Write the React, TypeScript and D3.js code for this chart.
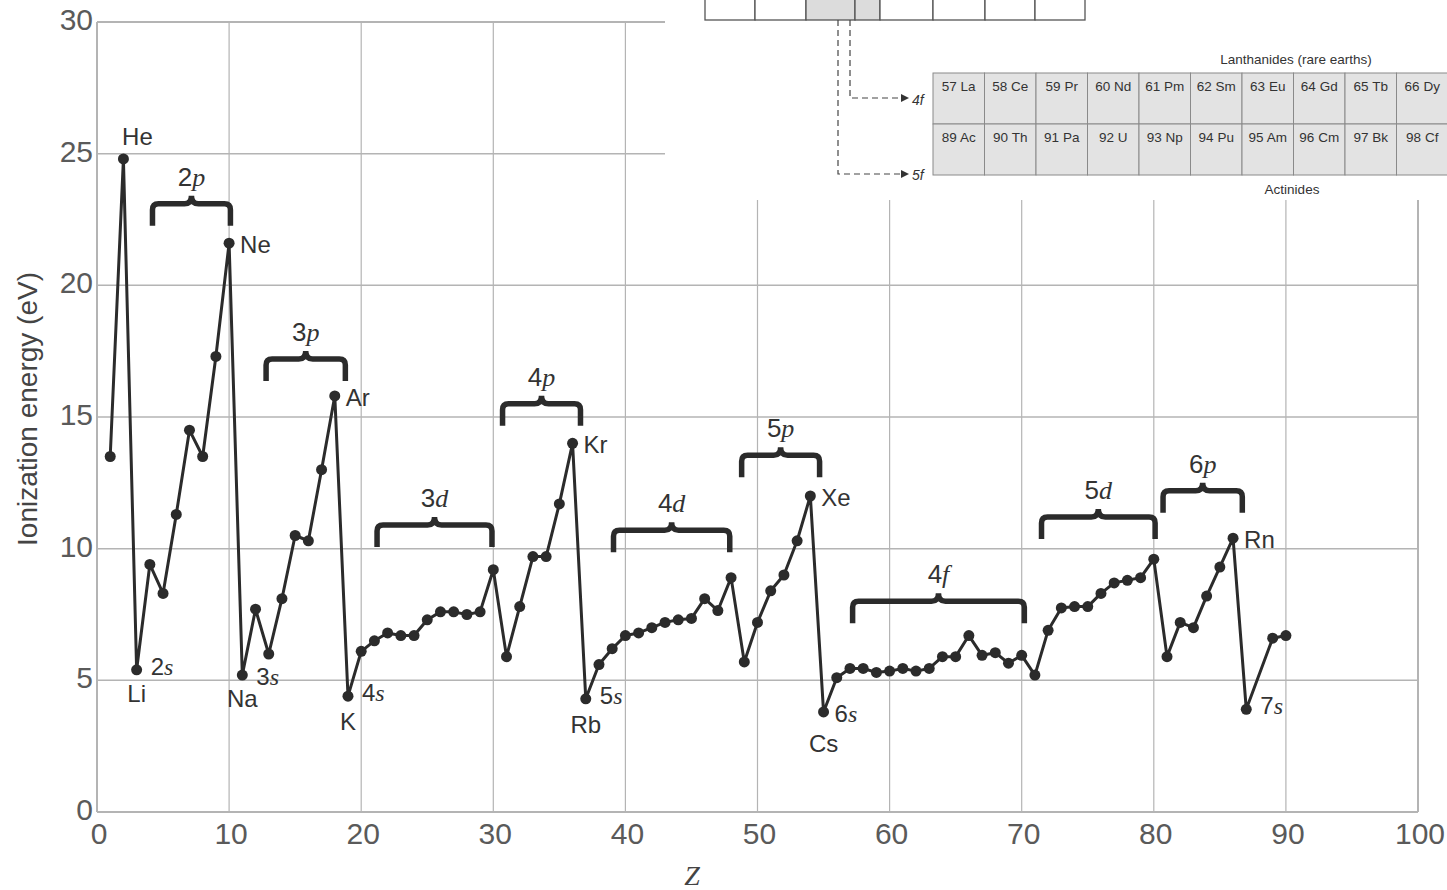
import React, { useEffect, useRef } from 'react'
import * as d3 from 'd3'

// atomic number and first ionization energy (eV)
const atomicNumbers = [
  1, 2, 3, 4, 5, 6, 7, 8, 9, 10, 11, 12, 13, 14, 15, 16, 17, 18, 19, 20,
  21, 22, 23, 24, 25, 26, 27, 28, 29, 30, 31, 32, 33, 34, 35, 36, 37, 38, 39, 40,
  41, 42, 43, 44, 45, 46, 47, 48, 49, 50, 51, 52, 53, 54, 55, 56, 57, 58, 59, 60,
  61, 62, 63, 64, 65, 66, 67, 68, 69, 70, 71, 72, 73, 74, 75, 76, 77, 78, 79, 80,
  81, 82, 83, 84, 85, 86, 87, 89, 90
]
const ionizationEnergy = [
  13.5, 24.8, 5.4, 9.4, 8.3, 11.3, 14.5, 13.5, 17.3, 21.6, 5.2, 7.7, 6.0, 8.1, 10.5, 10.3, 13.0, 15.8, 4.4, 6.1,
  6.5, 6.8, 6.7, 6.7, 7.3, 7.6, 7.6, 7.5, 7.6, 9.2, 5.9, 7.8, 9.7, 9.7, 11.7, 14.0, 4.3, 5.6, 6.2, 6.7,
  6.8, 7.0, 7.2, 7.3, 7.35, 8.1, 7.65, 8.9, 5.7, 7.2, 8.4, 9.0, 10.3, 12.0, 3.8, 5.1, 5.45, 5.45, 5.3, 5.35,
  5.45, 5.35, 5.45, 5.9, 5.9, 6.7, 5.95, 6.05, 5.65, 5.95, 5.2, 6.9, 7.75, 7.8, 7.8, 8.3, 8.7, 8.8, 8.9, 9.6,
  5.9, 7.2, 7.0, 8.2, 9.3, 10.4, 3.9, 6.6, 6.7
]

const xTicks = [0, 10, 20, 30, 40, 50, 60, 70, 80, 90, 100]
const yTicks = [0, 5, 10, 15, 20, 25, 30]

// subshell braces: name, start Z, end Z, level (eV)
const braceNames = ['2p', '3p', '3d', '4p', '4d', '5p', '4f', '5d', '6p']
const braceStart = [4.2, 12.8, 21.2, 30.7, 39.1, 48.8, 57.2, 71.5, 80.7]
const braceEnd = [10.1, 18.8, 29.9, 36.6, 47.9, 54.7, 70.2, 80.1, 86.7]
const braceLevel = [23.1, 17.2, 10.9, 15.5, 10.7, 13.55, 8.0, 11.2, 12.2]

// noble gases (label to the right) and alkali metals (label below)
const nobleSymbols = ['He', 'Ne', 'Ar', 'Kr', 'Xe', 'Rn']
const nobleZ = [2, 10, 18, 36, 54, 86]
const alkaliSymbols = ['Li', 'Na', 'K', 'Rb', 'Cs', 'Fr']
const alkaliZ = [3, 11, 19, 37, 55, 87]
const alkaliShells = ['2s', '3s', '4s', '5s', '6s', '7s']

const lanthanides = ['57 La', '58 Ce', '59 Pr', '60 Nd', '61 Pm', '62 Sm', '63 Eu', '64 Gd', '65 Tb', '66 Dy']
const actinides = ['89 Ac', '90 Th', '91 Pa', '92 U', '93 Np', '94 Pu', '95 Am', '96 Cm', '97 Bk', '98 Cf']

const W = 1447
const H = 890
const margin = { top: 22, right: 29, bottom: 78, left: 97 }
const ink = '#2b2b2b'
const gridColor = '#b4b4b4'
const sans = '"Liberation Sans", Arial, sans-serif'
const narrow = '"Liberation Sans Narrow", "Liberation Sans", Arial, sans-serif'
const serif = '"Liberation Serif", "DejaVu Serif", serif'

const App = () => {
  const ref = useRef<SVGSVGElement>(null)

  useEffect(() => {
    if (!ref.current) return
    const svg = d3.select(ref.current)
    svg.selectAll('*').remove()

    const x = d3.scaleLinear().domain([0, 100]).range([margin.left, W - margin.right])
    const y = d3.scaleLinear().domain([0, 30]).range([H - margin.bottom, margin.top])

    svg.append('rect').attr('width', W).attr('height', H).attr('fill', '#fff')

    // grid and frame
    const grid = svg.append('g')
    grid.selectAll('line.v')
      .data(xTicks)
      .enter()
      .append('line')
      .attr('x1', d => x(d)).attr('x2', d => x(d))
      .attr('y1', y(0)).attr('y2', y(30))
      .attr('stroke', gridColor)
      .attr('stroke-width', d => (d === 0 || d === 100 ? 2 : 1.2))
    grid.selectAll('line.h')
      .data(yTicks)
      .enter()
      .append('line')
      .attr('x1', x(0)).attr('x2', x(100))
      .attr('y1', d => y(d)).attr('y2', d => y(d))
      .attr('stroke', gridColor)
      .attr('stroke-width', d => (d === 0 || d === 30 ? 2 : 1.5))

    // tick labels
    svg.append('g').selectAll('text')
      .data(xTicks)
      .enter()
      .append('text')
      .attr('x', d => x(d) + 2)
      .attr('y', y(0) + 32)
      .attr('text-anchor', 'middle')
      .style('font-family', sans)
      .style('font-size', '30px')
      .style('fill', '#5a5a5a')
      .text(d => d)
    svg.append('g').selectAll('text')
      .data(yTicks)
      .enter()
      .append('text')
      .attr('x', x(0) - 4)
      .attr('y', d => y(d) + 8)
      .attr('text-anchor', 'end')
      .style('font-family', sans)
      .style('font-size', '30px')
      .style('fill', '#5a5a5a')
      .text(d => d)

    svg.append('text')
      .attr('transform', `translate(37, ${y(15) - 8}) rotate(-90)`)
      .attr('text-anchor', 'middle')
      .style('font-family', sans)
      .style('font-size', '28px')
      .style('fill', '#444')
      .text('Ionization energy (eV)')

    svg.append('text')
      .attr('x', 692)
      .attr('y', 885)
      .attr('text-anchor', 'middle')
      .style('font-family', serif)
      .style('font-style', 'italic')
      .style('font-size', '28px')
      .style('fill', '#444')
      .text('Z')

    // data line and points
    const pts = atomicNumbers.map((z, i) => [z, ionizationEnergy[i]] as [number, number])
    const line = d3.line<[number, number]>().x(d => x(d[0])).y(d => y(d[1]))
    svg.append('path')
      .attr('d', line(pts))
      .attr('fill', 'none')
      .attr('stroke', ink)
      .attr('stroke-width', 3)
      .attr('stroke-linejoin', 'round')
    svg.append('g').selectAll('circle')
      .data(pts)
      .enter()
      .append('circle')
      .attr('cx', d => x(d[0]))
      .attr('cy', d => y(d[1]))
      .attr('r', 5.5)
      .attr('fill', ink)

    const energyOf = (z: number) => ionizationEnergy[atomicNumbers.indexOf(z)]

    // braces
    const braceG = svg.append('g')
    braceNames.forEach((name, i) => {
      const x0 = x(braceStart[i])
      const x1 = x(braceEnd[i])
      const yb = y(braceLevel[i])
      const xm = (x0 + x1) / 2
      const p = `M${x0},${yb + 22} L${x0},${yb + 6} Q${x0},${yb} ${x0 + 6},${yb}`
        + ` L${xm - 7},${yb} Q${xm},${yb} ${xm},${yb - 8} Q${xm},${yb} ${xm + 7},${yb}`
        + ` L${x1 - 6},${yb} Q${x1},${yb} ${x1},${yb + 6} L${x1},${yb + 22}`
      braceG.append('path')
        .attr('d', p)
        .attr('fill', 'none')
        .attr('stroke', ink)
        .attr('stroke-width', 5.5)
      const t = braceG.append('text')
        .attr('x', xm)
        .attr('y', yb - 18)
        .attr('text-anchor', 'middle')
        .style('font-size', '26px')
        .style('fill', '#333')
      t.append('tspan').style('font-family', sans).text(name[0])
      t.append('tspan').style('font-family', serif).style('font-style', 'italic').text(name.slice(1))
    })

    // element labels
    const labelG = svg.append('g')
      .style('font-family', sans)
      .style('font-size', '24px')
      .style('fill', '#333')
    nobleSymbols.forEach((s, i) => {
      const px = x(nobleZ[i])
      const py = y(energyOf(nobleZ[i]))
      if (s === 'He') {
        labelG.append('text').attr('x', px + 14).attr('y', py - 14).attr('text-anchor', 'middle').text(s)
      } else {
        labelG.append('text').attr('x', px + 11).attr('y', py + 10).text(s)
      }
    })
    alkaliSymbols.forEach((s, i) => {
      const px = x(alkaliZ[i])
      const py = y(energyOf(alkaliZ[i]))
      if (s !== 'Fr') {
        const dy = s === 'Cs' ? 40 : s === 'Li' || s === 'Na' ? 32 : 34
        labelG.append('text').attr('x', px).attr('y', py + dy).attr('text-anchor', 'middle').text(s)
      }
      const sx = s === 'Cs' ? 11 : 14
      const sy = s === 'Cs' ? 10 : s === 'Na' ? 10 : 5
      const t = labelG.append('text').attr('x', px + sx).attr('y', py + sy)
      t.append('tspan').text(alkaliShells[i][0])
      t.append('tspan').style('font-family', serif).style('font-style', 'italic').text(alkaliShells[i][1])
    })

    // inset: fragment of the periodic table
    const inset = svg.append('g')
    inset.append('rect').attr('x', 665).attr('y', 0).attr('width', W - 665).attr('height', 200).attr('fill', '#fff')

    const topCells = [705, 755, 806, 855, 880, 933, 985, 1035, 1085]
    for (let i = 0; i < topCells.length - 1; i++) {
      inset.append('rect')
        .attr('x', topCells[i]).attr('y', -2)
        .attr('width', topCells[i + 1] - topCells[i]).attr('height', 22)
        .attr('fill', i === 2 || i === 3 ? '#dcdcdc' : '#fff')
        .attr('stroke', '#555').attr('stroke-width', 1.3)
    }

    inset.append('path')
      .attr('d', 'M850,20 L850,98 L902,98')
      .attr('fill', 'none').attr('stroke', '#444').attr('stroke-width', 1.2).attr('stroke-dasharray', '6,4')
    inset.append('path')
      .attr('d', 'M838,20 L838,174 L902,174')
      .attr('fill', 'none').attr('stroke', '#444').attr('stroke-width', 1.2).attr('stroke-dasharray', '6,4')
    inset.append('path').attr('d', 'M901,94 L909,98 L901,102 Z').attr('fill', '#333')
    inset.append('path').attr('d', 'M901,170 L909,174 L901,178 Z').attr('fill', '#333')
    inset.append('text').attr('x', 912).attr('y', 105)
      .style('font-family', narrow).style('font-style', 'italic').style('font-size', '14px').style('fill', '#333').text('4f')
    inset.append('text').attr('x', 912).attr('y', 155 + 25)
      .style('font-family', narrow).style('font-style', 'italic').style('font-size', '14px').style('fill', '#333').text('5f')

    const cellW = 51.5
    const tableX = 933
    const rowY = [73, 124]
    ;[lanthanides, actinides].forEach((row, r) => {
      row.forEach((label, c) => {
        inset.append('rect')
          .attr('x', tableX + c * cellW).attr('y', rowY[r])
          .attr('width', cellW).attr('height', 51)
          .attr('fill', '#e3e3e3')
          .attr('stroke', '#8a8a8a').attr('stroke-width', 1)
        inset.append('text')
          .attr('x', tableX + c * cellW + cellW / 2).attr('y', rowY[r] + 18)
          .attr('text-anchor', 'middle')
          .style('font-family', narrow).style('font-size', '13.5px').style('fill', '#333')
          .text(label)
      })
    })
    inset.append('text').attr('x', 1296).attr('y', 64).attr('text-anchor', 'middle')
      .style('font-family', narrow).style('font-size', '13.5px').style('fill', '#333')
      .text('Lanthanides (rare earths)')
    inset.append('text').attr('x', 1292).attr('y', 194).attr('text-anchor', 'middle')
      .style('font-family', narrow).style('font-size', '13.5px').style('fill', '#333')
      .text('Actinides')
  }, [])

  return (
    <svg
      ref={ref}
      width={W}
      height={H}
      style={{ position: 'absolute', left: 0, top: 0 }}
    />
  )
}

export default App
